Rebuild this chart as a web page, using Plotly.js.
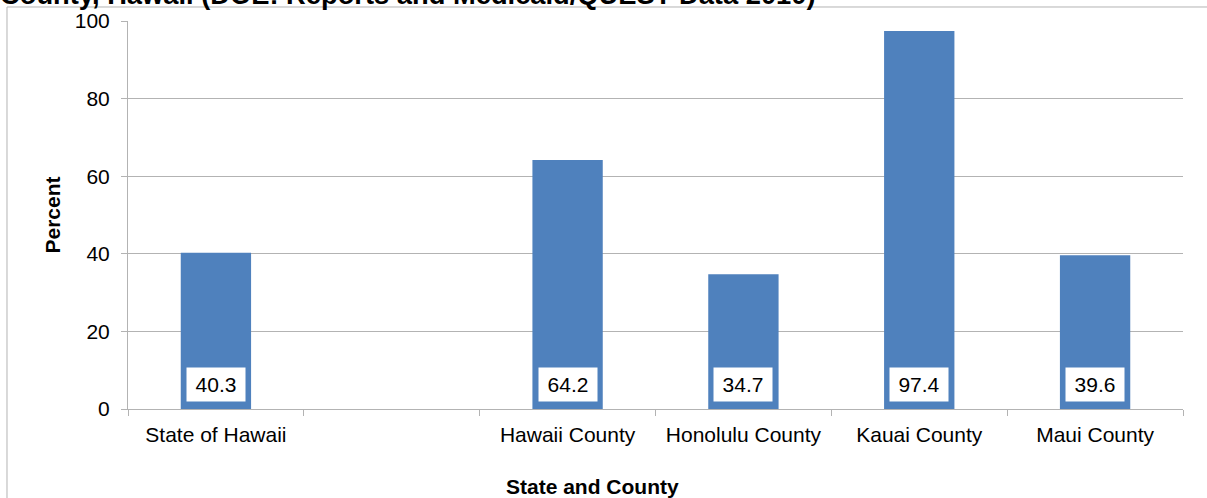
<!DOCTYPE html>
<html>
<head>
<meta charset="utf-8">
<script src="https://cdn.plot.ly/plotly-3.0.1.min.js"></script>
<style>
  html, body { margin: 0; padding: 0; background: #ffffff; overflow: hidden; }
  #chart { width: 1207px; height: 498px; }
</style>
</head>
<body>
<div id="chart"></div>
<script>
// ---- data ----
const categories = ["State of Hawaii", " ", "Hawaii County", "Honolulu County", "Kauai County", "Maui County"];
const percentValues = [40.3, null, 64.2, 34.7, 97.4, 39.6];
const yTickValues = [0, 20, 40, 60, 80, 100];
const chartTitle = "County, Hawaii (DOE: Reports and Medicaid/QUEST Data 2010)";
const xAxisTitle = "State and County";
const yAxisTitle = "Percent";

const FONT = "Liberation Sans, Arial, sans-serif";
const BAR = "#4F81BD";
const GRID = "#b3b3b3";

const trace = {
  type: "bar",
  x: categories,
  y: percentValues,
  marker: { color: BAR },
  hoverinfo: "x+y",
  showlegend: false
};

const valueLabels = [];
categories.forEach((c, i) => {
  const v = percentValues[i];
  if (v === null) return;
  valueLabels.push({
    xref: "x", yref: "y", x: c, y: 0,
    yanchor: "bottom", xanchor: "center", yshift: 7,
    text: v.toFixed(1), showarrow: false,
    bgcolor: "#ffffff", width: 50, height: 25, borderpad: 4,
    font: { family: FONT, size: 21, color: "#000000" }
  });
});

valueLabels.push({
  xref: "paper", yref: "paper", x: 0.44, y: -0.201,
  xanchor: "center", yanchor: "middle", showarrow: false,
  text: xAxisTitle,
  font: { family: FONT, size: 21, color: "#000000", weight: "bold" }
});

const layout = {
  width: 1207, height: 498,
  margin: { l: 128, r: 24, t: 21, b: 89 },
  paper_bgcolor: "#ffffff", plot_bgcolor: "#ffffff",
  bargap: 0.6,
  title: {
    text: chartTitle,
    xref: "container", yref: "container",
    x: 0, xanchor: "left", y: 0.992, yanchor: "bottom",
    pad: { t: 0, b: 0, l: 0, r: 0 },
    font: { family: FONT, size: 27.3, color: "#000000", weight: "bold" }
  },
  xaxis: {
    type: "category",
    categoryorder: "array", categoryarray: categories,
    showline: true, linecolor: GRID, linewidth: 1,
    ticks: "outside", tickson: "boundaries", ticklen: 6, tickcolor: GRID,
    showgrid: false, zeroline: false,
    tickfont: { family: FONT, size: 21, color: "#000000" },
    ticklabelstandoff: 7
  },
  yaxis: {
    range: [0, 100], tickvals: yTickValues,
    showline: true, linecolor: GRID, linewidth: 1,
    ticks: "outside", ticklen: 6, tickcolor: GRID,
    showgrid: true, gridcolor: GRID, gridwidth: 1, zeroline: false,
    tickfont: { family: FONT, size: 21, color: "#000000" },
    ticklabelstandoff: 7,
    title: { text: yAxisTitle, standoff: 8,
      font: { family: FONT, size: 21, color: "#000000", weight: "bold" } }
  },
  shapes: [{
    type: "rect", xref: "paper", yref: "paper",
    x0: -0.1147, x1: 1.1, y0: -0.5, y1: 1.0361,
    line: { color: GRID, width: 1 }, fillcolor: "rgba(0,0,0,0)", layer: "below"
  }],
  annotations: valueLabels
};

Plotly.newPlot("chart", [trace], layout, { displayModeBar: false, staticPlot: true });
</script>
</body>
</html>
